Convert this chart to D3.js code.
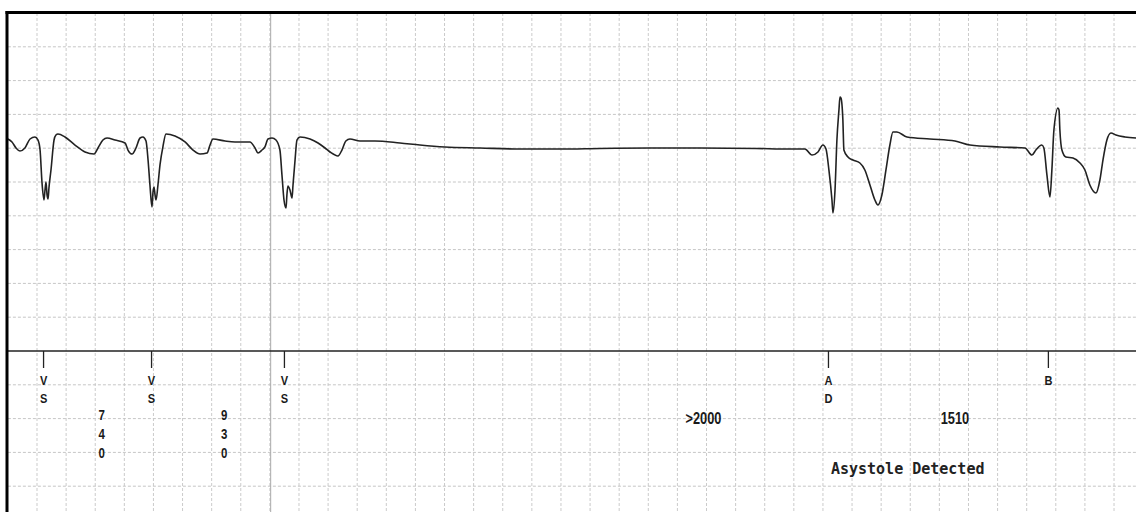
<!DOCTYPE html>
<html>
<head>
<meta charset="utf-8">
<script src="https://cdn.jsdelivr.net/npm/d3@7"></script>
<style>
  html, body { margin: 0; padding: 0; background: #fff; }
  svg { display: block; }
  .narrow { font-family: "Liberation Sans Narrow", "Arial Narrow", "Liberation Sans", Arial, sans-serif; }
</style>
</head>
<body>
<svg id="chart" width="1136" height="512"></svg>
<script>
// ECG trace: time (ms) and amplitude (µV)
const traceMs = [0,28,56,83,117,152,186,207,221,234,248,255,262,269,276,282,296,317,330,344,392,461,530,592,619,653,681,736,805,825,853,880,908,928,949,963,976,990,997,1004,1011,1018,1031,1045,1066,1086,1148,1217,1272,1320,1368,1389,1409,1492,1560,1663,1698,1718,1746,1766,1787,1815,1842,1869,1883,1897,1911,1917,1924,1938,1952,1959,1973,1986,2007,2076,2131,2179,2213,2268,2295,2322,2350,2419,2522,2694,2831,3003,3244,3518,3793,4068,4411,4755,5140,5373,5476,5525,5566,5600,5621,5641,5662,5669,5683,5696,5710,5717,5724,5737,5744,5772,5806,5854,5888,5923,5957,5978,6005,6033,6060,6081,6108,6177,6335,6507,6610,6816,6988,7036,7063,7104,7118,7139,7160,7173,7187,7215,7222,7228,7242,7269,7318,7366,7400,7434,7476,7503,7524,7551,7579,7613,7675,7751];
const traceUv = [136,92,3,-41,3,136,166,121,-27,-500,-766,-618,-500,-692,-751,-589,-322,121,195,210,166,47,-56,-86,3,121,151,121,77,-27,-86,3,151,166,106,-175,-544,-870,-648,-574,-692,-766,-544,-248,33,210,180,92,-27,-86,-71,47,136,106,92,92,3,-71,-27,18,136,151,121,-27,-396,-766,-884,-692,-559,-618,-737,-544,-175,121,166,136,77,3,-56,-115,-27,106,136,106,106,77,47,18,3,-12,-12,-4,3,3,-4,-12,-12,-101,-56,47,-12,-322,-766,-958,-618,121,565,757,742,417,-27,-130,-175,-219,-322,-544,-766,-840,-692,-322,47,240,240,166,136,106,47,18,3,-101,-27,47,3,-396,-722,-322,269,595,565,269,-27,-130,-145,-219,-322,-544,-663,-470,-175,121,225,195,166,151];

// Event markers
const markerMs = [245, 987, 1900, 5638, 7149];
const markerCodes = [["V","S"], ["V","S"], ["V","S"], ["A","D"], ["B"]];

// Interval annotations
const intervalMs = [644, 1486, 4779, 6507];
const intervalText = [["7","4","0"], ["9","3","0"], [">2000"], ["1510"]];

// Alert
const alertMs = [5655];
const alertText = ["Asystole Detected"];

// Paper grid: 200 ms per column, 500 µV per row; cursor line
const gridStepMs = 200;
const gridStepUv = 500;
const cursorMs = [1800];
const markerChannelUv = -3000;

const W = 1136, H = 512;
const svg = d3.select("#chart");

const x = d3.scaleLinear().domain([0, 7751]).range([7.9, 1136]);
const y = d3.scaleLinear().domain([-2000, 2000]).range([283.4, 13]);

// grid
const vTicks = d3.range(gridStepMs, 7751, gridStepMs);
const hTicks = d3.range(2000 - gridStepUv, -5600, -gridStepUv).filter(v => v !== markerChannelUv);

const g = svg.append("g");
g.selectAll("line.v").data(vTicks).join("line")
  .attr("x1", d => x(d)).attr("x2", d => x(d))
  .attr("y1", y(2000)).attr("y2", H)
  .attr("stroke", "#cbcbcb").attr("stroke-width", 1)
  .attr("stroke-dasharray", "3,2");
g.selectAll("line.h").data(hTicks).join("line")
  .attr("x1", x(0)).attr("x2", W)
  .attr("y1", d => y(d)).attr("y2", d => y(d))
  .attr("stroke", "#c6c6c6").attr("stroke-width", 1)
  .attr("stroke-dasharray", "3,2");

// cursor line
g.selectAll("line.cursor").data(cursorMs).join("line")
  .attr("x1", d => x(d) + 0.8).attr("x2", d => x(d) + 0.8)
  .attr("y1", y(2000)).attr("y2", H)
  .attr("stroke", "#aaaaaa").attr("stroke-width", 1);

// marker channel line
svg.append("line")
  .attr("x1", x(0)).attr("x2", W)
  .attr("y1", y(markerChannelUv)).attr("y2", y(markerChannelUv))
  .attr("stroke", "#222").attr("stroke-width", 1.4);

// ECG trace
const pts = traceMs.map((t, i) => [t, traceUv[i]]);
const line = d3.line().x(d => x(d[0])).y(d => y(d[1])).curve(d3.curveMonotoneX);
svg.append("path")
  .attr("d", line(pts))
  .attr("fill", "none")
  .attr("stroke", "#222")
  .attr("stroke-width", 1.6)
  .attr("stroke-linejoin", "round");

// narrow text helper
function narrowText(tx, ty, s, size, weight, sx) {
  svg.append("text")
    .attr("class", "narrow")
    .attr("transform", `translate(${tx},${ty}) scale(${sx},1)`)
    .attr("text-anchor", "middle")
    .attr("font-size", size).attr("font-weight", weight)
    .attr("fill", "#1a1a1a")
    .text(s);
}

// markers
const my = y(markerChannelUv);
markerMs.forEach((t, i) => {
  svg.append("line")
    .attr("x1", x(t)).attr("x2", x(t))
    .attr("y1", my).attr("y2", my + 17)
    .attr("stroke", "#222").attr("stroke-width", 1.3);
  markerCodes[i].forEach((c, j) => {
    narrowText(x(t), my + 33.5 + j * 18.5, c, 13, "bold", 0.85);
  });
});

// intervals
intervalMs.forEach((t, i) => {
  const lines = intervalText[i];
  lines.forEach((s, j) => {
    if (lines.length === 1) {
      narrowText(x(t), my + 73, s, 16, "bold", 0.8);
    } else {
      narrowText(x(t), my + 68.5 + j * 19, s, 14, "bold", 0.82);
    }
  });
});

// alert
alertMs.forEach((t, i) => {
  svg.append("text")
    .attr("x", x(t)).attr("y", my + 123)
    .attr("font-family", "'DejaVu Sans Mono', monospace")
    .attr("font-size", 15).attr("font-weight", "bold")
    .attr("fill", "#222")
    .text(alertText[i]);
});

// frame: top and left borders
svg.append("line")
  .attr("x1", 5.5).attr("x2", W).attr("y1", 12.5).attr("y2", 12.5)
  .attr("stroke", "#000").attr("stroke-width", 3);
svg.append("line")
  .attr("x1", 7).attr("x2", 7).attr("y1", 11).attr("y2", H)
  .attr("stroke", "#000").attr("stroke-width", 3);
</script>
</body>
</html>
